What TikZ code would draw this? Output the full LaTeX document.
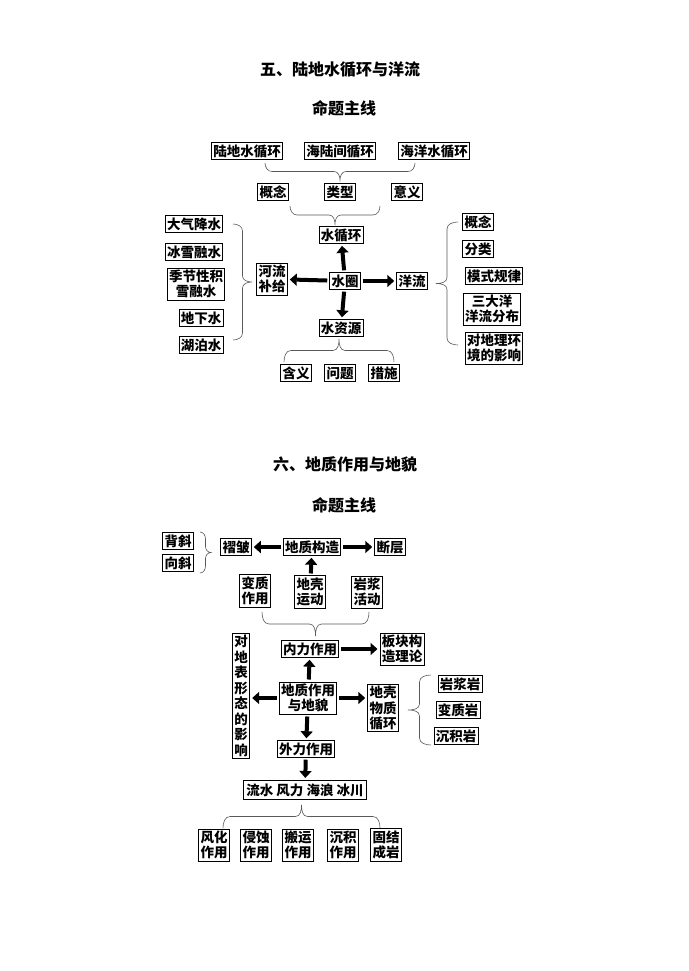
\documentclass[tikz,border=0pt]{standalone}
\usepackage{fontspec}
\setmainfont{Noto Sans CJK SC}
\usetikzlibrary{arrows.meta}
\tikzset{
 bx/.style={draw,line width=0.9pt,inner sep=1.8pt,align=center,font=\fontsize{13.5}{15.5}\selectfont\bfseries},
 blk/.style={line width=4pt,-{Triangle[length=7pt,width=12pt]},shorten >=2pt,shorten <=2pt},
 br/.style={line width=0.6pt,gray!70!black},
 ttl/.style={font=\fontsize{16}{18}\selectfont\bfseries}
}
% vertical braces: x-end, ytop, ybot, xtip
\newcommand\brV[4]{%
 \pgfmathsetmacro\bxm{(#1+#4)/2}\pgfmathsetmacro\bym{(#2+#3)/2}%
 \pgfmathsetmacro\byA{#2+7}\pgfmathsetmacro\byB{\bym-6}\pgfmathsetmacro\byC{\bym+6}\pgfmathsetmacro\byD{#3-7}%
 \pgfmathsetmacro\sg{#4>#1?0:180}\pgfmathsetmacro\sgb{#4>#1?180:0}%
 \draw[br] (#1,#2) to[out=\sg,in=90] (\bxm,\byA) -- (\bxm,\byB) to[out=-90,in=\sgb] (#4,\bym) to[out=\sgb,in=90] (\bxm,\byC) -- (\bxm,\byD) to[out=-90,in=\sg] (#1,#3);}
% horizontal braces: xleft, xright, y-end, ytip
\newcommand\brH[4]{%
 \pgfmathsetmacro\bxm{(#1+#2)/2}\pgfmathsetmacro\bym{(#3+#4)/2}%
 \pgfmathsetmacro\bxA{#1+7}\pgfmathsetmacro\bxB{\bxm-6}\pgfmathsetmacro\bxC{\bxm+6}\pgfmathsetmacro\bxD{#2-7}%
 \pgfmathsetmacro\sg{#4>#3?-90:90}\pgfmathsetmacro\sgb{#4>#3?90:-90}%
 \draw[br] (#1,#3) to[out=\sg,in=180] (\bxA,\bym) -- (\bxB,\bym) to[out=0,in=\sgb] (\bxm,#4) to[out=\sgb,in=180] (\bxC,\bym) -- (\bxD,\bym) to[out=0,in=\sg] (#2,#3);}
\begin{document}
\begin{tikzpicture}[x=1pt,y=-1pt]
\useasboundingbox[fill=white] (0,0) rectangle (688,971);
% ---- top
\node[ttl] (t1) at (340,70) {五、陆地水循环与洋流};
\node[ttl] (t2) at (344,108) {命题主线};
\node[bx] (a1) at (247,151) {陆地水循环};
\node[bx] (a2) at (340,151) {海陆间循环};
\node[bx] (a3) at (434,151) {海洋水循环};
\node[bx] (lx) at (340,192) {类型};
\node[bx] (gn) at (273,192) {概念};
\node[bx] (yy) at (407,192) {意义};
\node[bx] (sxh) at (341,235) {水循环};
\node[bx] (sq) at (345,281) {水圈};
\node[bx] (hl) at (272,279) {河流\\补给};
\node[bx] (yl) at (412,281) {洋流};
\node[bx] (szy) at (341,328) {水资源};
\node[bx] (hy) at (296,373) {含义};
\node[bx] (wt) at (340,373) {问题};
\node[bx] (cs) at (384,373) {措施};
\node[bx] (l1) at (194,224) {大气降水};
\node[bx] (l2) at (194,252) {冰雪融水};
\node[bx] (l3) at (196,284) {季节性积\\雪融水};
\node[bx] (l4) at (201,318) {地下水};
\node[bx] (l5) at (201,345) {湖泊水};
\node[bx] (r1) at (478,222) {概念};
\node[bx] (r2) at (478,249) {分类};
\node[bx] (r3) at (494,276) {模式规律};
\node[bx] (r4) at (492,309) {三大洋\\洋流分布};
\node[bx] (r5) at (494,348) {对地理环\\境的影响};
\draw[blk] (sq) -- (sxh);
\draw[blk] (sq) -- (hl);
\draw[blk] (sq) -- (yl);
\draw[blk] (sq) -- (szy);
\brH{265}{415}{163}{180}
\brH{290}{380}{206}{224}
\brH{284}{394}{362}{339}
\brV{233}{224}{340}{252}
\brV{458}{222}{345}{436}
% ---- bottom
\node[ttl] (t3) at (345,464) {六、地质作用与地貌};
\node[ttl] (t4) at (344,505) {命题主线};
\node[bx] (bx1) at (178,541) {背斜};
\node[bx] (bx2) at (178,563) {向斜};
\node[bx] (zz) at (236,547) {褶皱};
\node[bx] (dzgz) at (312,547) {地质构造};
\node[bx] (dc) at (390,547) {断层};
\node[bx] (bz) at (255,591) {变质\\作用};
\node[bx] (dk) at (310,592) {地壳\\运动};
\node[bx] (yj) at (367,592) {岩浆\\活动};
\node[bx] (nl) at (310,649) {内力作用};
\node[bx] (bk) at (402,649) {板块构\\造理论};
\node[bx,inner sep=2pt] (db) at (241,696) {对\\地\\表\\形\\态\\的\\影\\响};
\node[bx] (dzzy) at (308,698) {地质作用\\与地貌};
\node[bx] (wz) at (383,708) {地壳\\物质\\循环};
\node[bx] (y1) at (460,684) {岩浆岩};
\node[bx] (y2) at (458,710) {变质岩};
\node[bx] (y3) at (456,736) {沉积岩};
\node[bx] (wl) at (306,749) {外力作用};
\node[bx,inner sep=3pt] (ls) at (305,790) {流水~风力~海浪~冰川};
\node[bx] (w1) at (214,845) {风化\\作用};
\node[bx] (w2) at (256,845) {侵蚀\\作用};
\node[bx] (w3) at (298,845) {搬运\\作用};
\node[bx] (w4) at (343,845) {沉积\\作用};
\node[bx] (w5) at (386,845) {固结\\成岩};
\draw[blk] (dzgz) -- (zz);
\draw[blk] (dzgz) -- (dc);
\draw[blk] (dk) -- (dzgz);
\draw[blk] (nl) -- (bk);
\draw[blk] (dzzy) -- (nl);
\draw[blk] (dzzy.west) -- (db.east |- dzzy.west);
\draw[blk] (dzzy.east) -- (wz.west |- dzzy.east);
\draw[blk] (dzzy) -- (wl);
\draw[blk] (wl) -- (ls);
\brV{200}{532}{573}{211}
\brH{262}{369}{612}{636}
\brV{431}{675}{745}{408}
\brH{223}{380}{828}{805}
\end{tikzpicture}
\end{document}
